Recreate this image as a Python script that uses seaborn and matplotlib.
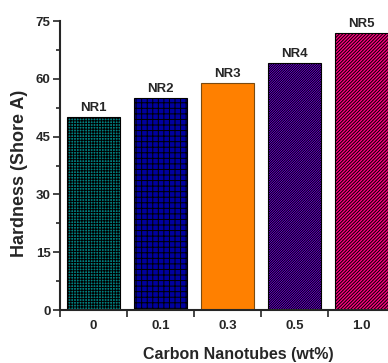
import matplotlib
matplotlib.use("Agg")
import matplotlib.pyplot as plt
import seaborn as sns
import pandas as pd
from matplotlib.ticker import MultipleLocator, FixedLocator

# === Données ===
cnt_loading = ["0", "0.1", "0.3", "0.5", "1.0"]
hardness = [50, 55, 59, 64, 72]
sample_names = ["NR1", "NR2", "NR3", "NR4", "NR5"]
bar_colors = ["#008080", "#0000a0", "#ff8000", "#8000ff", "#ff0080"]
bar_hatches = ["++++++", "+++", "", "//////////////", "//////////"]

df = pd.DataFrame({"cnt": cnt_loading, "hardness": hardness})

sns.set_style("ticks")
plt.rcParams["font.family"] = ["Liberation Sans", "DejaVu Sans"]
plt.rcParams["font.weight"] = "bold"
plt.rcParams["hatch.linewidth"] = 0.7

fig = plt.figure(figsize=(3.88, 3.63), dpi=100)
ax = fig.add_axes([0.155, 0.146, 0.863, 0.796])

sns.barplot(data=df, x="cnt", y="hardness", hue="cnt", palette=bar_colors,
            saturation=1, width=0.8, legend=False, ax=ax,
            edgecolor="black", linewidth=0.8)

for patch, h, name in zip(ax.patches, bar_hatches, sample_names):
    patch.set_hatch(h)
    if h == "":
        patch.set_edgecolor("#7a4a10")
    x = patch.get_x() + patch.get_width() / 2
    ax.text(x, patch.get_height() + 0.8, name, ha="center", va="bottom",
            fontsize=9.5, fontweight="bold")

ax.set_xlim(-0.5, 4.5)
ax.set_ylim(0, 75)
ax.yaxis.set_major_locator(MultipleLocator(15))
ax.yaxis.set_minor_locator(MultipleLocator(7.5))
ax.xaxis.set_minor_locator(FixedLocator([-0.5, 0.5, 1.5, 2.5, 3.5]))
ax.tick_params(axis="both", which="major", labelsize=9.5, length=5, width=1.2,
               pad=2)
ax.tick_params(axis="both", which="minor", length=3, width=1.2)
ax.tick_params(axis="x", which="minor", length=5)
ax.tick_params(axis="x", which="major", length=0, pad=7)

sns.despine(ax=ax)
ax.spines["left"].set_linewidth(1.5)
ax.spines["bottom"].set_linewidth(1.5)

ax.set_xlabel("Carbon Nanotubes (wt%)", fontsize=11.5, fontweight="bold")
ax.set_ylabel("Hardness (Shore A)", fontsize=13, fontweight="bold")
ax.xaxis.set_label_coords(0.531, -0.128)
ax.yaxis.set_label_coords(-0.095, 0.474)
for lab in ax.get_xticklabels() + ax.get_yticklabels():
    lab.set_fontweight("bold")

fig.savefig("out.png", dpi=100)
